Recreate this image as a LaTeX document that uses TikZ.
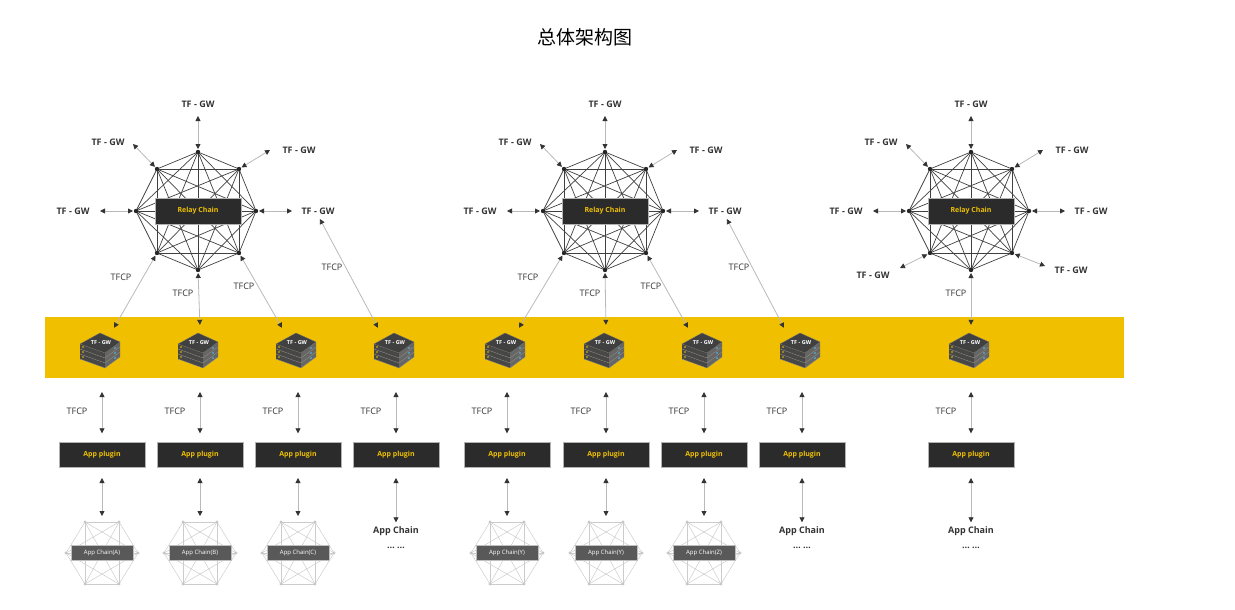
\documentclass[tikz,border=0pt]{standalone}
\usepackage{fontspec}
\setmainfont{Open Sans}
\newfontfamily\cjk{Noto Sans CJK SC}
\usetikzlibrary{arrows.meta}
\definecolor{tfyellow}{HTML}{F0C000}
\definecolor{tfdark}{HTML}{2B2B2B}
\tikzset{
  mesh/.style={black!75,line width=0.7pt},
  biarrow/.style={gray!55,line width=0.8pt,
    {Triangle[length=5pt,width=5pt,color=black!80]}-{Triangle[length=5pt,width=5pt,color=black!80]}},
  gwlabel/.style={font=\fontsize{9}{10}\selectfont\bfseries,text=black!80,inner sep=1pt},
  proto/.style={font=\fontsize{9}{10}\selectfont,text=black!80,inner sep=1pt},
  darkbox/.style={fill=tfdark,draw=gray!60,text=tfyellow,font=\fontsize{7}{8}\selectfont\bfseries,
    minimum width=86pt,minimum height=25pt,inner sep=0pt},
  chainbox/.style={fill=black!65,draw=gray!50,text=white,font=\fontsize{6}{7}\selectfont,
    minimum width=62pt,minimum height=15pt,inner sep=0pt},
  server/.style={minimum width=50pt,minimum height=34pt,inner sep=0pt},
  srv/.pic={
    \foreach \k in {2,1,0}{
      \fill[black!72] (-22,-1+5*\k) -- (3,8+5*\k) -- (3,13+5*\k) -- (-22,4+5*\k) -- cycle;
      \fill[black!60] (3,8+5*\k) -- (18,-3+5*\k) -- (18,2+5*\k) -- (3,13+5*\k) -- cycle;
      \draw[black!45,line width=0.3pt] (-22,4+5*\k) -- (3,13+5*\k) -- (18,2+5*\k);
      \fill[tfyellow] (-19,2+5*\k) circle (0.8);
      \fill[cyan!70] (13,3+5*\k) circle (0.8);
    }
    \fill[black!75,draw=black!55,line width=0.3pt] (-22,-1) -- (-2,-12) -- (18,-3) -- (3,8) -- cycle;
    \node[text=white,font=\fontsize{5.5}{6}\selectfont\bfseries] at (-1,-2) {TF - GW};
  },
  appnet/.pic={
    \coordinate (h1) at (-17,-31);
    \coordinate (h2) at (17,-31);
    \coordinate (h3) at (36,0);
    \coordinate (h4) at (17,31);
    \coordinate (h5) at (-17,31);
    \coordinate (h6) at (-36,0);
    \foreach \a/\b in {1/2,1/3,1/4,1/5,1/6,2/3,2/4,2/5,2/6,3/4,3/5,3/6,4/5,4/6,5/6}
      \draw[gray!40,line width=0.5pt] (h\a) -- (h\b);
    \foreach \a in {1,...,6} \fill[gray!45] (h\a) circle (1.6);
  }
}
\newcommand\relaychain[2]{%
  \begin{scope}[shift={(#2,211)}]
    \coordinate (#1-t) at (0,-59);
    \coordinate (#1-tr) at (41,-42);
    \coordinate (#1-r) at (58,0);
    \coordinate (#1-br) at (41,42);
    \coordinate (#1-b) at (0,59);
    \coordinate (#1-bl) at (-41,42);
    \coordinate (#1-l) at (-62,0);
    \coordinate (#1-tl) at (-41,-42);
    \foreach \a [count=\i] in {t,tr,r,br,b,bl,l,tl}{
      \foreach \b [count=\j] in {t,tr,r,br,b,bl,l,tl}{
        \ifnum\j>\i \draw[mesh] (#1-\a) -- (#1-\b);\fi
      }
    }
    \foreach \a in {t,tr,r,br,b,bl,l,tl} \fill[black!85] (#1-\a) circle (2.2);
    \node[darkbox,minimum height=26pt] (#1-box) at (0,0) {Relay Chain};
    % gateways around the relay chain
    \node[gwlabel] (#1-gwt) at (0,-107) {TF - GW};
    \node[gwlabel] (#1-gwtl) at (-90,-69) {TF - GW};
    \node[gwlabel] (#1-gwtr) at (101,-61) {TF - GW};
    \node[gwlabel] (#1-gwl) at (-125,0) {TF - GW};
    \node[gwlabel] (#1-gwr) at (120,0) {TF - GW};
    \coordinate (#1-et) at (0,-95);
    \coordinate (#1-etl) at (-65,-67);
    \coordinate (#1-etr) at (72,-61);
    \coordinate (#1-el) at (-98,0);
    \coordinate (#1-er) at (94,0);
    \foreach \a in {t,tl,tr,l,r} \draw[biarrow,shorten <=3pt] (#1-\a) -- (#1-e\a);
  \end{scope}
}

\begin{document}
\begin{tikzpicture}[x=1pt,y=-1pt]
  \useasboundingbox (0,0) rectangle (1235,610);
  % title
  \node[font=\cjk\fontsize{19}{22}\selectfont] (title) at (585,37) {总体架构图};
  % yellow gateway band
  \fill[tfyellow] (45,317) rectangle (1124,378);
  % relay chains
  \relaychain{ra}{198}
  \relaychain{rb}{605}
  \relaychain{rc}{971}
  \node[gwlabel] (rc-gwbl) at (873,275) {TF - GW};
  \node[gwlabel] (rc-gwbr) at (1071,270) {TF - GW};
  \coordinate (rc-ebl) at (900,268);
  \coordinate (rc-ebr) at (1045,266);
  \draw[biarrow,shorten <=3pt] (rc-bl) -- (rc-ebl);
  \draw[biarrow,shorten <=3pt] (rc-br) -- (rc-ebr);
  % columns: gateway and plugin
  \foreach \x [count=\i] in {102,200,298,396,507,606,704,802,971}{
    \node[server] (gw\i) at (\x,345) {};
    \pic at (gw\i) {srv};
    \node[darkbox] (ap\i) at (\x,455) {App plugin};
    \coordinate (up\i) at (\x,392);
    \coordinate (ct\i) at (\x,478);
    \node[proto] (tp\i) at (\x-25,411) {TFCP};
    \draw[biarrow,shorten >=9pt] (up\i) -- (ap\i);
  }
  % app chains drawn as small networks
  \foreach \i/\x/\nm in {1/102/A,2/200/B,3/298/C,5/507/Y,6/606/Y,7/704/Z}{
    \pic at (\x,553) {appnet};
    \node[chainbox] (ac\i) at (\x,553) {App Chain(\nm)};
    \coordinate (ab\i) at (\x,516);
    \draw[biarrow] (ct\i) -- (ab\i);
  }
  % app chains given as text
  \foreach \i/\x in {4/396,8/802,9/971}{
    \node[gwlabel] (ac\i) at (\x,531) {App Chain};
    \node[gwlabel] (dots\i) at (\x,548) {\dots\ \dots};
    \draw[biarrow,shorten >=3pt] (ct\i) -- (ac\i.north);
  }
  % TFCP links from relay chains down to the band
  \draw[biarrow,shorten <=3pt] (ra-bl) -- ([xshift=12pt]gw1.north);
  \draw[biarrow,shorten <=3pt,shorten >=3pt] (ra-b) -- (gw2.north);
  \draw[biarrow,shorten <=3pt] (ra-br) -- ([xshift=-16pt]gw3.north);
  \draw[biarrow,shorten <=4pt] (ra-gwr.south) -- ([xshift=-18pt]gw4.north);
  \draw[biarrow,shorten <=3pt] (rb-bl) -- ([xshift=12pt]gw5.north);
  \draw[biarrow,shorten <=3pt,shorten >=3pt] (rb-b) -- (gw6.north);
  \draw[biarrow,shorten <=3pt] (rb-br) -- ([xshift=-16pt]gw7.north);
  \draw[biarrow,shorten <=4pt] (rb-gwr.south) -- ([xshift=-18pt]gw8.north);
  \draw[biarrow,shorten <=3pt,shorten >=3pt] (rc-b) -- (gw9.north);
  \node[proto] (la1) at (121,277) {TFCP};
  \node[proto] (la2) at (183,293) {TFCP};
  \node[proto] (la3) at (244,286) {TFCP};
  \node[proto] (la4) at (332,267) {TFCP};
  \node[proto] (lb1) at (528,277) {TFCP};
  \node[proto] (lb2) at (590,293) {TFCP};
  \node[proto] (lb3) at (651,286) {TFCP};
  \node[proto] (lb4) at (739,267) {TFCP};
  \node[proto] (lc2) at (956,293) {TFCP};
\end{tikzpicture}
\end{document}
